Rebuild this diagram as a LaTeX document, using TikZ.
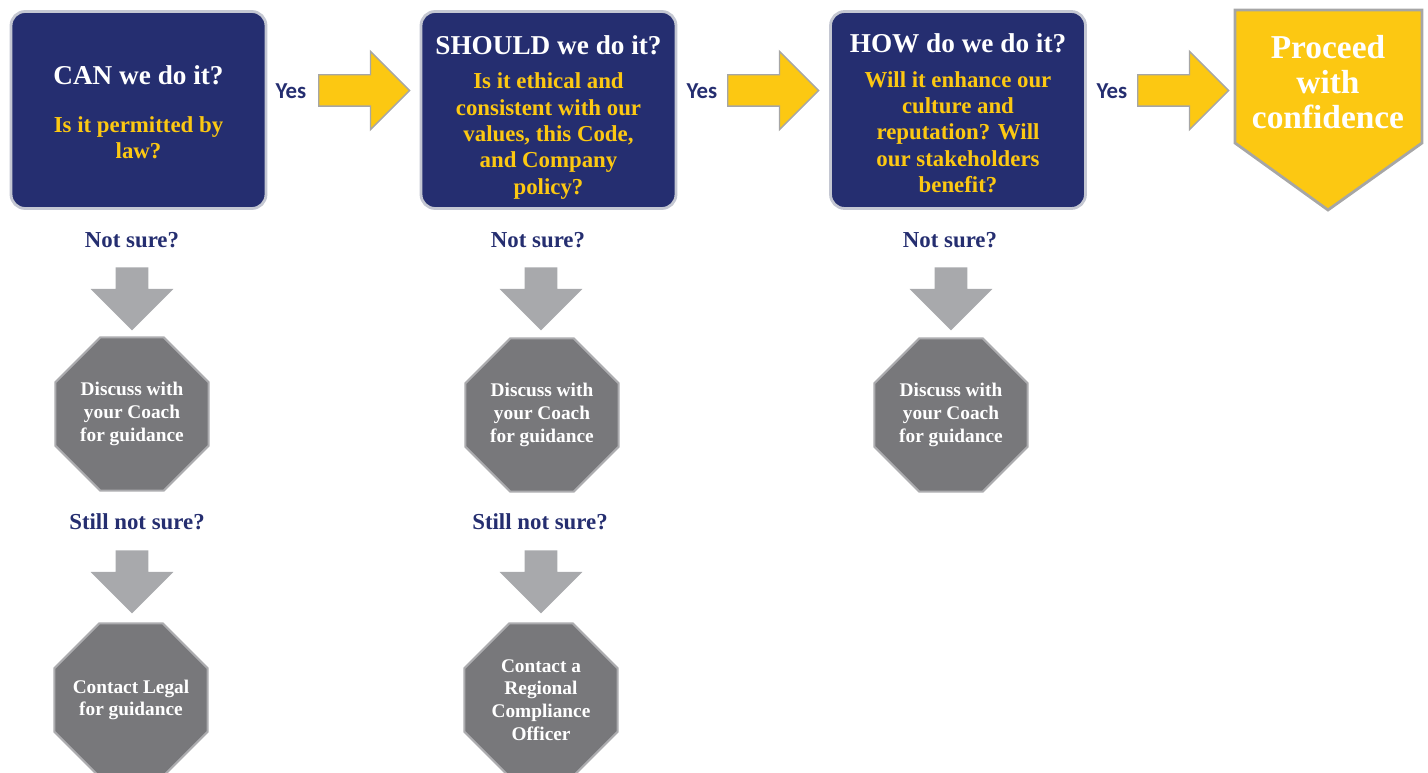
\documentclass[tikz,border=0pt]{standalone}
\usepackage{fontspec}
\setmainfont{Liberation Serif}
\newfontfamily\yesfont{Carlito}
\usetikzlibrary{shapes.geometric,shapes.arrows,positioning}

\definecolor{deepnavy}{RGB}{37,46,112}
\definecolor{goyellow}{RGB}{252,200,18}
\definecolor{boxrim}{RGB}{196,199,210}
\definecolor{stopgray}{RGB}{120,120,123}
\definecolor{stoprim}{RGB}{172,172,175}
\definecolor{downgray}{RGB}{168,169,172}

\tikzset{
  askbox/.style={draw=boxrim,line width=1.6pt,rounded corners=8pt,fill=deepnavy,minimum width=5.1cm,minimum height=3.94cm,inner sep=0pt},
  headtxt/.style={text=white,font=\bfseries\fontsize{15.5}{18}\selectfont},
  asktxt/.style={text=goyellow,align=center,font=\bfseries\fontsize{13}{15}\selectfont},
  yestxt/.style={text=deepnavy,font=\yesfont\bfseries\fontsize{13}{15}\selectfont},
  unsure/.style={text=deepnavy,font=\bfseries\fontsize{13}{15}\selectfont},
  goarrow/.style={single arrow,draw=black!35,fill=goyellow,line width=0.8pt,inner sep=0.3cm,minimum height=1.82cm,single arrow head extend=0.47cm,anchor=tail},
  downarrow/.style={single arrow,shape border rotate=270,fill=downgray,inner sep=0.32cm,minimum height=1.26cm,single arrow head extend=0.5cm,anchor=tail},
  stopsign/.style={regular polygon,regular polygon sides=8,fill=stopgray,draw=stoprim,line width=1.2pt,minimum size=3.32cm,inner sep=0pt,text=white,align=center,font=\bfseries\fontsize{11}{13}\selectfont},
}

\begin{document}
\begin{tikzpicture}[x=0.02cm,y=-0.02cm]
\useasboundingbox (0,0) rectangle (1428,773);
\clip (0,0) rectangle (1428,773);

% question boxes
\node[askbox] (can) at (138.5,110) {};
\node[headtxt] (cantitle) at (138.5,75) {CAN we do it?};
\node[asktxt] (canask) at (138.5,138) {Is it permitted by\\law?};

\node[askbox] (should) at (548.5,110) {};
\node[headtxt] (shouldtitle) at (548.5,45) {SHOULD we do it?};
\node[asktxt] (shouldask) at (548.5,136) {Is it ethical and\\consistent with our\\values, this Code,\\and Company\\policy?};

\node[askbox] (how) at (958,110) {};
\node[headtxt] (howtitle) at (958,43) {HOW do we do it?};
\node[asktxt] (howask) at (958,132) {Will it enhance our\\culture and\\reputation? Will\\our stakeholders\\benefit?};

% yes arrows
\node[yestxt] (yes1) at (291,91) {Yes};
\node[goarrow] (go1) at (318,90.5) {};
\node[yestxt] (yes2) at (702,91) {Yes};
\node[goarrow] (go2) at (727,90.5) {};
\node[yestxt] (yes3) at (1112,91) {Yes};
\node[goarrow] (go3) at (1137,90.5) {};

% proceed
\draw[draw=black!35,line width=1.6pt,fill=goyellow] (1235,10) -- (1422,10) -- (1422,143) -- (1328,210) -- (1235,143) -- cycle;
\node[text=white,align=center,font=\bfseries\fontsize{19}{20}\selectfont] (proceed) at (1328,82) {Proceed\\with\\confidence};

% first level
\node[unsure] (ns1) at (132,240) {Not sure?};
\node[downarrow] (dn1) at (132,267) {};
\node[stopsign] (coach1) at (132,414) {Discuss with\\your Coach\\for guidance};

\node[unsure] (ns2) at (538,240) {Not sure?};
\node[downarrow] (dn2) at (541,267) {};
\node[stopsign] (coach2) at (542,415) {Discuss with\\your Coach\\for guidance};

\node[unsure] (ns3) at (950,240) {Not sure?};
\node[downarrow] (dn3) at (951,267) {};
\node[stopsign] (coach3) at (951,415) {Discuss with\\your Coach\\for guidance};

% second level
\node[unsure] (sns1) at (137,522) {Still not sure?};
\node[downarrow] (sdn1) at (132,550) {};
\node[stopsign,inner sep=-0.2cm] (legal) at (131,700) {Contact Legal\\for guidance};

\node[unsure] (sns2) at (540,522) {Still not sure?};
\node[downarrow] (sdn2) at (541,550) {};
\node[stopsign] (officer) at (541,700) {Contact a\\Regional\\Compliance\\Officer};
\end{tikzpicture}
\end{document}
